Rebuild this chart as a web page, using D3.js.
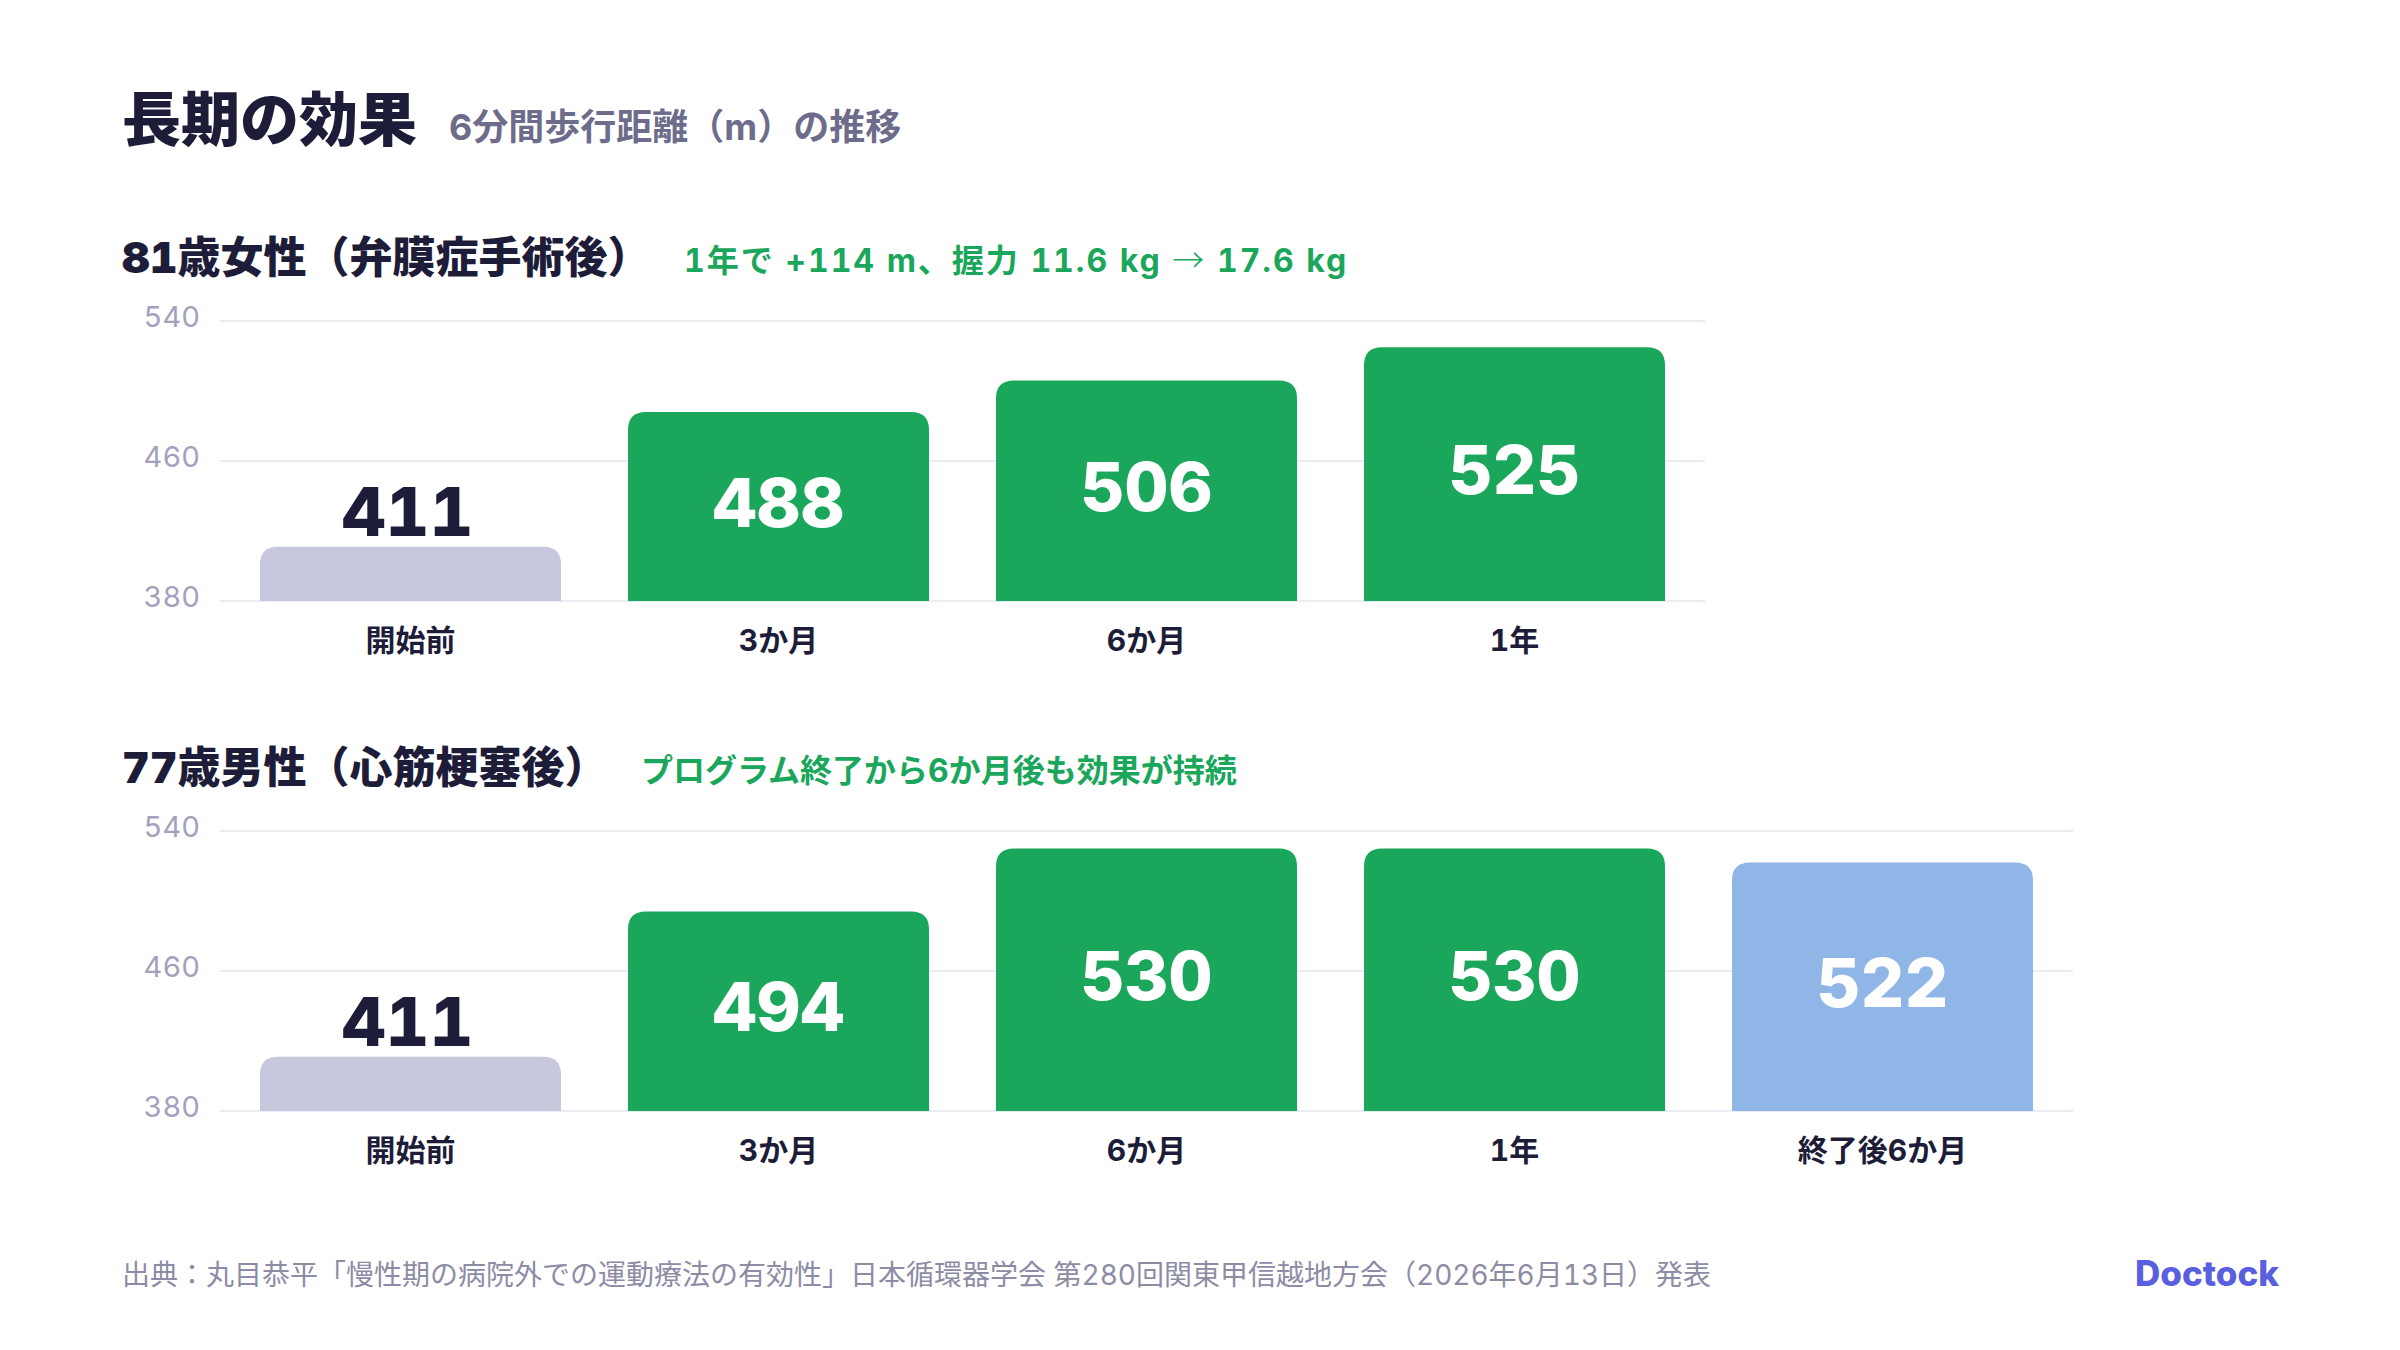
<!DOCTYPE html>
<html lang="ja">
<head>
<meta charset="utf-8">
<script src="https://cdn.jsdelivr.net/npm/d3@7"></script>
<style>
  html, body { margin: 0; padding: 0; background: #ffffff; }
  svg { display: block; font-family: "Inter", "Noto Sans CJK JP", sans-serif; font-variant-numeric: tabular-nums; }
</style>
</head>
<body>
<svg id="chart" width="2400" height="1350"></svg>
<script>
// data
const stages1 = ["開始前", "3か月", "6か月", "1年"];
const walk1 = [411, 488, 506, 525];
const phase1 = ["base", "prog", "prog", "prog"];

const stages2 = ["開始前", "3か月", "6か月", "1年", "終了後6か月"];
const walk2 = [411, 494, 530, 530, 522];
const phase2 = ["base", "prog", "prog", "prog", "after"];

const yTicks = [380, 460, 540];
const yDomain = [380, 540];

const colors = { base: "#c7c7dd", prog: "#1aa65b", after: "#8fb6e7" };

const svg = d3.select("#chart");

// header
svg.append("text")
    .attr("x", 122).attr("y", 141)
    .attr("font-size", 59).attr("font-weight", 900)
    .attr("fill", "#1e1d39")
    .text("長期の効果");

svg.append("text")
    .attr("x", 449).attr("y", 140)
    .attr("font-size", 36).attr("font-weight", 700)
    .attr("fill", "#6d6c8b")
    .text("6分間歩行距離（m）の推移");

// draws one panel of bars
function drawPanel(top, title, note, noteX, noteSpacing, stages, values, phases) {
    const g = svg.append("g").attr("transform", `translate(0, ${top})`);

    g.append("text")
        .attr("x", 122).attr("y", 0)
        .attr("font-size", 43).attr("font-weight", 900)
        .attr("fill", "#1e1d39")
        .text(title);

    // the arrow is drawn thin, like in the source
    const noteText = g.append("text")
        .attr("x", noteX).attr("y", -1)
        .attr("font-size", 32).attr("font-weight", 700)
        .attr("letter-spacing", noteSpacing)
        .attr("fill", "#1aa65b");
    note.split("→").forEach((part, i) => {
        if (i > 0) {
            noteText.append("tspan")
                .attr("font-family", "'Noto Sans CJK JP', sans-serif")
                .attr("font-weight", 300)
                .text("→");
        }
        noteText.append("tspan").text(part);
    });

    const n = stages.length;
    const step = 368;
    const left = 220;
    const x = d3.scaleBand()
        .domain(stages)
        .range([left, left + step * (n - 0.182 + 2 * 0.1087)])
        .paddingInner(0.182)
        .paddingOuter(0.1087);

    const y = d3.scaleLinear()
        .domain(yDomain)
        .range([328, 48]);

    // gridlines
    g.append("g")
        .selectAll("line")
        .data(yTicks)
        .join("line")
        .attr("x1", x.range()[0])
        .attr("x2", x.range()[1])
        .attr("y1", d => y(d))
        .attr("y2", d => y(d))
        .attr("stroke", "#ebebf3")
        .attr("stroke-width", 2);

    // y axis labels
    const yAxis = g.append("g")
        .attr("transform", `translate(200, 0)`)
        .call(d3.axisLeft(y).tickValues(yTicks).tickSize(0).tickPadding(0));
    yAxis.select(".domain").remove();
    yAxis.selectAll("text")
        .attr("font-family", "Inter, 'Noto Sans CJK JP', sans-serif")
        .attr("font-size", 29)
        .attr("fill", "#a3a2bd")
        .attr("dy", "0.2em");

    const rows = stages.map((s, i) => ({ stage: s, value: values[i], phase: phases[i] }));
    const r = 18;

    // bars with rounded top corners
    g.append("g")
        .selectAll("path")
        .data(rows)
        .join("path")
        .attr("d", d => {
            const x0 = x(d.stage), x1 = x0 + x.bandwidth();
            const y0 = y(d.value), yb = y(yDomain[0]);
            return `M${x0},${yb} L${x0},${y0 + r} Q${x0},${y0} ${x0 + r},${y0}` +
                ` L${x1 - r},${y0} Q${x1},${y0} ${x1},${y0 + r} L${x1},${yb} Z`;
        })
        .attr("fill", d => colors[d.phase]);

    // value labels
    const inside = d => (y(yDomain[0]) - y(d.value)) > 100;
    g.append("g")
        .selectAll("text")
        .data(rows)
        .join("text")
        .attr("x", d => x(d.stage) + x.bandwidth() / 2 - (inside(d) ? 0 : 3))
        .attr("y", d => inside(d) ? (y(d.value) + y(yDomain[0])) / 2 + 20 : y(d.value) - 11)
        .attr("text-anchor", "middle")
        .attr("font-size", 68).attr("font-weight", 800)
        .attr("fill", d => inside(d) ? "#ffffff" : "#1e1d39")
        .text(d => d.value);

    // category labels
    g.append("g")
        .selectAll("text")
        .data(rows)
        .join("text")
        .attr("x", d => x(d.stage) + x.bandwidth() / 2)
        .attr("y", y(yDomain[0]) + 50)
        .attr("text-anchor", "middle")
        .attr("font-size", 30).attr("font-weight", 700)
        .attr("fill", "#1e1d39")
        .text(d => d.stage);
}

drawPanel(273, "81歳女性（弁膜症手術後）", "1年で +114 m、握力 11.6 kg → 17.6 kg", 684, 2,
    stages1, walk1, phase1);
drawPanel(783, "77歳男性（心筋梗塞後）", "プログラム終了から6か月後も効果が持続", 641, 0,
    stages2, walk2, phase2);

// footer
svg.append("text")
    .attr("x", 122).attr("y", 1285)
    .attr("font-size", 28).attr("font-weight", 400)
    .attr("fill", "#8d8ca5")
    .text("出典：丸目恭平「慢性期の病院外での運動療法の有効性」日本循環器学会 第280回関東甲信越地方会（2026年6月13日）発表");

svg.append("text")
    .attr("x", 2279).attr("y", 1286)
    .attr("text-anchor", "end")
    .attr("font-size", 35).attr("font-weight", 800)
    .attr("fill", "#5a5fe0")
    .text("Doctock");
</script>
</body>
</html>
